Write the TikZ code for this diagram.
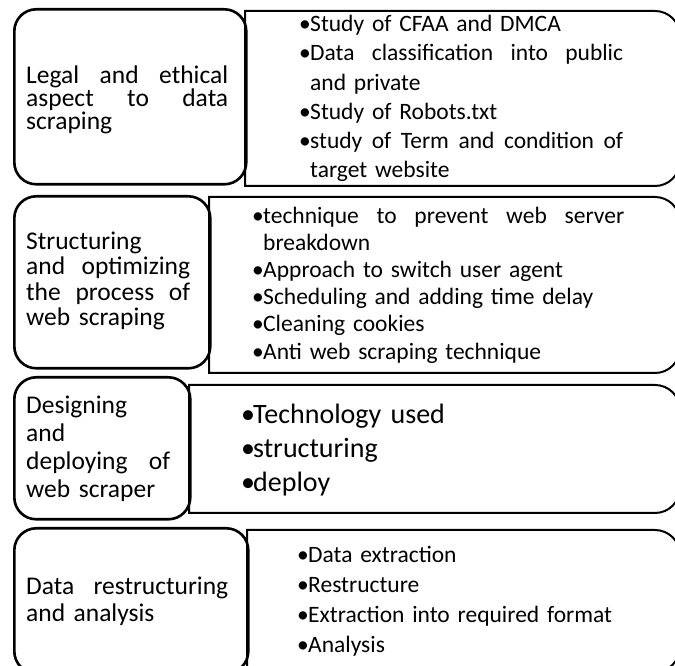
\documentclass[tikz,border=0pt]{standalone}
\usepackage{fontspec}
\setmainfont{Carlito}
\lineskiplimit=-40pt
\newcommand{\bul}[2][11pt]{\makebox[#1][l]{\raisebox{0pt}{•}}#2}
\newcommand{\jl}[2]{\hbox to #1{\spaceskip=0.2em plus 10em\relax #2}}
\newcommand{\rshape}[4]{%
  \draw[rbox] (#1,#2) -- (#1,#4) -- ({#3-25},#4) arc[start angle=90,end angle=0,radius=25]
    -- (#3,{#2+25}) arc[start angle=0,end angle=-90,radius=25] -- cycle;}
\begin{document}
\begin{tikzpicture}[x=1pt,y=1pt,
  lbox/.style={draw=black, line width=2.6pt, rounded corners=22pt, anchor=north west, inner sep=0pt},
  rbox/.style={draw=black, line width=2pt},
  txt/.style={anchor=west, inner sep=0pt, align=left}]
\useasboundingbox (0,0) rectangle (675,666);
\clip (0,0) rectangle (675,666);
\fill[white] (0,0) rectangle (675,666);

% right boxes
\rshape{245}{480}{680}{655}
\rshape{209}{293}{680}{469}
\rshape{189}{153}{680}{281}
\rshape{247}{-6}{680}{136}

% left boxes
\node[lbox, minimum width=232pt, minimum height=175pt] (L1) at (13,658) {};
\node[lbox, minimum width=196pt, minimum height=172pt] (L2) at (13,471) {};
\node[lbox, minimum width=176pt, minimum height=142pt] (L3) at (13,290) {};
\node[lbox, minimum width=234pt, minimum height=145pt] (L4) at (13,139) {};

% left texts
\node[txt, text width=205pt, font=\fontsize{25.5}{23}\selectfont] (t1) at (26,566)
  {\jl{202pt}{Legal and ethical}\par \jl{202pt}{aspect to data}\par scraping};
\node[txt, text width=170pt, font=\fontsize{25.5}{25.5}\selectfont] (t2) at (26,385)
  {Structuring\par \jl{164pt}{and optimizing}\par \jl{164pt}{the process of}\par web scraping};
\node[txt, text width=150pt, font=\fontsize{25.5}{28}\selectfont] (t3) at (26,217)
  {Designing\par and\par \jl{144pt}{deploying of}\par web scraper};
\node[txt, text width=205pt, font=\fontsize{25.5}{27}\selectfont] (t4) at (26,65)
  {\jl{202pt}{Data restructuring}\par and analysis};

% right texts
\node[txt, text width=340pt, font=\fontsize{23.5}{29.2}\selectfont] (r1) at (299,567.5)
  {\bul{Study of CFAA and DMCA}\par
   \bul{\jl{313pt}{Data classification into public}}\par
   \hspace*{11pt}and private\par
   \bul{Study of Robots.txt}\par
   \bul{\jl{313pt}{study of Term and condition of}}\par
   \hspace*{11pt}target website};
\node[txt, text width=380pt, font=\fontsize{23.5}{27.2}\selectfont] (r2) at (252,381)
  {\bul{\jl{361pt}{technique to prevent web server}}\par
   \hspace*{11pt}breakdown\par
   \bul{Approach to switch user agent}\par
   \bul{Scheduling and adding time delay}\par
   \bul{Cleaning cookies}\par
   \bul{Anti web scraping technique}};
\node[txt, text width=400pt, font=\fontsize{28}{34}\selectfont] (r3) at (241,216)
  {\bul[12pt]{Technology used}\par
   \bul[12pt]{structuring}\par
   \bul[12pt]{deploy}};
\node[txt, text width=360pt, font=\fontsize{23.5}{30}\selectfont] (r4) at (297,65)
  {\bul{Data extraction}\par
   \bul{Restructure}\par
   \bul{Extraction into required format}\par
   \bul{Analysis}};
\end{tikzpicture}
\end{document}
